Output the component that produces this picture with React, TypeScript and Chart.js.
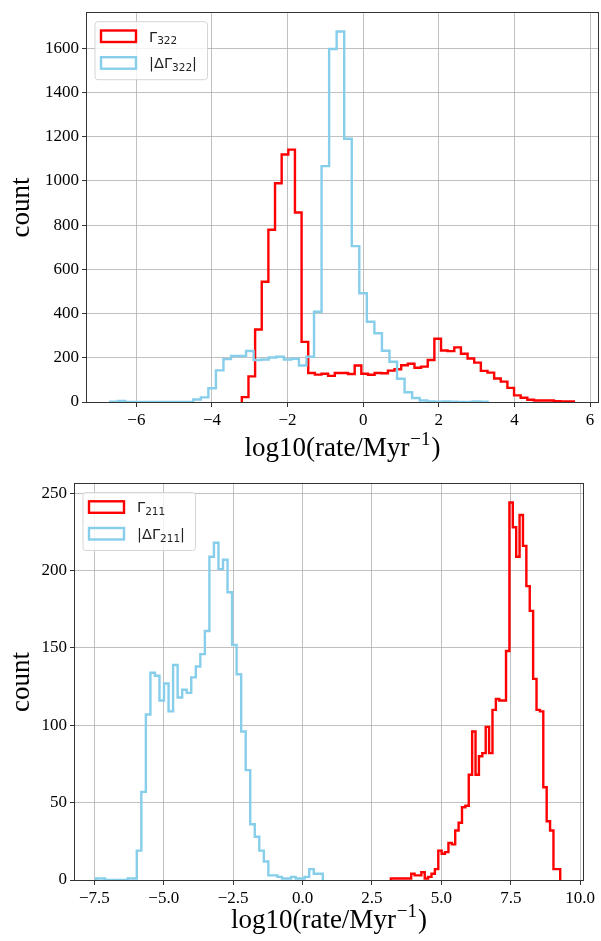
import React, { useEffect, useRef } from "react";
import { Chart, registerables } from "chart.js";

Chart.register(...registerables);

// ---------------- data: top panel (322) ----------------
const TOP_GAMMA_START = -3.21;
const TOP_GAMMA_WIDTH = 0.1756;
const TOP_GAMMA_COUNTS = [
  22, 116, 328, 544, 779, 990, 1120, 1142, 857, 272,
  131, 124, 128, 118, 131, 131, 127, 165, 128, 123,
  131, 130, 142, 148, 166, 173, 155, 160, 190, 286,
  233, 230, 247, 218, 197, 178, 141, 133, 106, 92,
  64, 30, 19, 10, 7, 7, 7, 4, 3, 2,
];
const TOP_DELTA_START = -6.69;
const TOP_DELTA_WIDTH = 0.1996;
const TOP_DELTA_COUNTS = [
  1, 5, 0, 0, 0, 0, 0, 0, 0, 0,
  0, 11, 21, 62, 143, 194, 208, 208, 231, 190,
  192, 201, 205, 192, 196, 165, 205, 408, 1067, 1597,
  1676, 1191, 705, 492, 363, 311, 232, 182, 105, 44,
  18, 7, 3, 1, 3, 1, 0, 0, 3, 1,
];
const TOP_X_TICKS = [-6, -4, -2, 0, 2, 4, 6];
const TOP_Y_TICKS = [0, 200, 400, 600, 800, 1000, 1200, 1400, 1600];
const TOP_LEGEND = [
  [{ t: "Γ" }, { t: "322", sub: true }],
  [{ t: "|ΔΓ" }, { t: "322", sub: true }, { t: "|" }],
];

// ---------------- data: bottom panel (211) ----------------
const BOT_GAMMA_START = 3.18;
const BOT_GAMMA_WIDTH = 0.122;
const BOT_GAMMA_COUNTS = [
  1, 1, 1, 1, 1, 1, 4, 3, 3, 5,
  1, 2, 4, 7, 19, 17, 18, 24, 23, 32,
  37, 47, 48, 68, 96, 68, 80, 82, 99, 82,
  110, 117, 116, 116, 148, 244, 228, 209, 236, 216,
  190, 174, 130, 110, 109, 60, 38, 32, 7, 7,
];
const BOT_DELTA_START = -7.44;
const BOT_DELTA_WIDTH = 0.1634;
const BOT_DELTA_COUNTS = [
  1, 1, 0, 0, 0, 0, 0, 1, 1, 19,
  57, 107, 134, 132, 116, 127, 109, 139, 118, 123,
  121, 131, 138, 146, 161, 209, 218, 201, 207, 186,
  152, 133, 96, 71, 36, 28, 19, 12, 3, 3,
  2, 1, 1, 2, 1, 1, 2, 7, 4, 4,
];
const BOT_X_TICKS = [-7.5, -5.0, -2.5, 0.0, 2.5, 5.0, 7.5, 10.0];
const BOT_Y_TICKS = [0, 50, 100, 150, 200, 250];
const BOT_LEGEND = [
  [{ t: "Γ" }, { t: "211", sub: true }],
  [{ t: "|ΔΓ" }, { t: "211", sub: true }, { t: "|" }],
];

const X_TITLE = ["log10(rate/Myr", "−1", ")"];
const Y_TITLE = "count";

const RED = "#ff0000";
const BLUE = "#87ceeb";
const SERIF = "'Liberation Serif', 'Times New Roman', serif";
const SANS = "'DejaVu Sans', sans-serif";

type Seg = { t: string; sub?: boolean };

function stepPoints(start: number, width: number, counts: number[]) {
  const pts: { x: number; y: number }[] = [{ x: start, y: 0 }];
  counts.forEach((c, i) => pts.push({ x: start + i * width, y: c }));
  pts.push({ x: start + counts.length * width, y: 0 });
  return pts;
}

const minus = (s: string) => s.replace("-", "−");

type Panel = {
  w: number;
  h: number;
  xmin: number;
  xmax: number;
  ymax: number;
  xTicks: number[];
  yTicks: number[];
  xFmt: (v: number) => string;
  gamma: { start: number; width: number; counts: number[] };
  delta: { start: number; width: number; counts: number[] };
  legend: Seg[][];
  padTop: number;
  padRight: number;
  yAxisW: number;
  xAxisH: number;
  xTitleY: number;
};

const PANELS: Panel[] = [
  {
    w: 601,
    h: 470,
    xmin: -7.305,
    xmax: 6.21,
    ymax: 1759,
    xTicks: TOP_X_TICKS,
    yTicks: TOP_Y_TICKS,
    xFmt: (v) => minus(String(v)),
    gamma: { start: TOP_GAMMA_START, width: TOP_GAMMA_WIDTH, counts: TOP_GAMMA_COUNTS },
    delta: { start: TOP_DELTA_START, width: TOP_DELTA_WIDTH, counts: TOP_DELTA_COUNTS },
    legend: TOP_LEGEND,
    padTop: 4,
    padRight: 3,
    yAxisW: 87,
    xAxisH: 68,
    xTitleY: 456,
  },
  {
    w: 601,
    h: 471,
    xmin: -8.195,
    xmax: 10.1,
    ymax: 256,
    xTicks: BOT_X_TICKS,
    yTicks: BOT_Y_TICKS,
    xFmt: (v) => minus(v.toFixed(1)),
    gamma: { start: BOT_GAMMA_START, width: BOT_GAMMA_WIDTH, counts: BOT_GAMMA_COUNTS },
    delta: { start: BOT_DELTA_START, width: BOT_DELTA_WIDTH, counts: BOT_DELTA_COUNTS },
    legend: BOT_LEGEND,
    padTop: 14,
    padRight: 18,
    yAxisW: 75,
    xAxisH: 61,
    xTitleY: 458,
  },
];

function decorPlugin(p: Panel) {
  return {
    id: "decor",
    afterDraw(chart: any) {
      const ctx: CanvasRenderingContext2D = chart.ctx;
      const ca = chart.chartArea;
      ctx.save();
      // frame (spines)
      ctx.strokeStyle = "#333333";
      ctx.lineWidth = 1;
      ctx.strokeRect(
        Math.round(ca.left) - 0.5,
        Math.round(ca.top) - 0.5,
        Math.round(ca.right - ca.left) + 1,
        Math.round(ca.bottom - ca.top) + 1
      );

      // legend
      const bx = ca.left + 8;
      const by = ca.top + 8.5;
      const bw = 112.5;
      const bh = 58;
      const r = 3;
      ctx.beginPath();
      ctx.moveTo(bx + r, by);
      ctx.lineTo(bx + bw - r, by);
      ctx.arcTo(bx + bw, by, bx + bw, by + r, r);
      ctx.lineTo(bx + bw, by + bh - r);
      ctx.arcTo(bx + bw, by + bh, bx + bw - r, by + bh, r);
      ctx.lineTo(bx + r, by + bh);
      ctx.arcTo(bx, by + bh, bx, by + bh - r, r);
      ctx.lineTo(bx, by + r);
      ctx.arcTo(bx, by, bx + r, by, r);
      ctx.closePath();
      ctx.fillStyle = "rgba(255,255,255,0.8)";
      ctx.fill();
      ctx.strokeStyle = "#d5d5d5";
      ctx.lineWidth = 1;
      ctx.stroke();

      const colors = [RED, BLUE];
      p.legend.forEach((segs, i) => {
        const py = by + 8.8 + i * 26.7;
        ctx.strokeStyle = colors[i];
        ctx.lineWidth = 2.4;
        ctx.strokeRect(bx + 6, py, 35, 11.5);
        let tx = bx + 54;
        const base = py + 11;
        ctx.fillStyle = "#222";
        ctx.textBaseline = "alphabetic";
        ctx.textAlign = "left";
        segs.forEach((s) => {
          ctx.font = s.sub ? `10.5px ${SANS}` : `14.6px ${SANS}`;
          ctx.fillText(s.t, tx, s.sub ? base + 2.8 : base);
          tx += ctx.measureText(s.t).width;
        });
      });

      // x title
      ctx.fillStyle = "#000";
      const big = `27px ${SERIF}`;
      const small = `19px ${SERIF}`;
      ctx.font = big;
      const w0 = ctx.measureText(X_TITLE[0]).width;
      const w2 = ctx.measureText(X_TITLE[2]).width;
      ctx.font = small;
      const w1 = ctx.measureText(X_TITLE[1]).width;
      let x = (ca.left + ca.right) / 2 - (w0 + w1 + w2 + 2) / 2;
      ctx.font = big;
      ctx.fillText(X_TITLE[0], x, p.xTitleY);
      x += w0 + 1;
      ctx.font = small;
      ctx.fillText(X_TITLE[1], x, p.xTitleY - 11);
      x += w1 + 1;
      ctx.font = big;
      ctx.fillText(X_TITLE[2], x, p.xTitleY);

      // y title
      ctx.save();
      ctx.translate(29, (ca.top + ca.bottom) / 2);
      ctx.rotate(-Math.PI / 2);
      ctx.font = big;
      ctx.textAlign = "center";
      ctx.textBaseline = "alphabetic";
      ctx.fillText(Y_TITLE, 0, 0);
      ctx.restore();

      ctx.restore();
    },
  };
}

function makeConfig(p: Panel): any {
  const tickFont = { family: SERIF, size: 17 };
  return {
    type: "line",
    data: {
      datasets: [
        {
          label: "gamma",
          data: stepPoints(p.gamma.start, p.gamma.width, p.gamma.counts),
          borderColor: RED,
          borderWidth: 2.4,
          pointRadius: 0,
          stepped: "before",
          fill: false,
          order: 1,
        },
        {
          label: "delta",
          data: stepPoints(p.delta.start, p.delta.width, p.delta.counts),
          borderColor: BLUE,
          borderWidth: 2.4,
          pointRadius: 0,
          stepped: "before",
          fill: false,
          order: 0,
        },
      ],
    },
    options: {
      animation: false,
      responsive: false,
      maintainAspectRatio: false,
      layout: { padding: { left: 0, right: p.padRight, top: p.padTop, bottom: 0 } },
      plugins: { legend: { display: false }, tooltip: { enabled: false } },
      scales: {
        x: {
          type: "linear",
          min: p.xmin,
          max: p.xmax,
          afterBuildTicks: (s: any) => {
            s.ticks = p.xTicks.map((v) => ({ value: v }));
          },
          afterFit: (s: any) => {
            s.height = p.xAxisH;
          },
          ticks: {
            callback: (v: number) => p.xFmt(v),
            font: tickFont,
            color: "#000",
            padding: 3,
            maxRotation: 0,
            autoSkip: false,
          },
          grid: { color: "#b0b0b0", lineWidth: 0.8, tickColor: "#000", tickLength: 5 },
          border: { display: false },
        },
        y: {
          type: "linear",
          min: 0,
          max: p.ymax,
          afterBuildTicks: (s: any) => {
            s.ticks = p.yTicks.map((v) => ({ value: v }));
          },
          afterFit: (s: any) => {
            s.width = p.yAxisW;
          },
          ticks: {
            callback: (v: number) => String(v),
            font: tickFont,
            color: "#000",
            padding: 3,
            autoSkip: false,
          },
          grid: { color: "#b0b0b0", lineWidth: 0.8, tickColor: "#000", tickLength: 5 },
          border: { display: false },
        },
      },
    },
    plugins: [decorPlugin(p)],
  };
}

function HistPanel({ p }: { p: Panel }) {
  const ref = useRef<HTMLCanvasElement | null>(null);
  useEffect(() => {
    if (!ref.current) return;
    const chart = new Chart(ref.current, makeConfig(p));
    return () => chart.destroy();
  }, [p]);
  return (
    <canvas
      ref={ref}
      width={p.w}
      height={p.h}
      style={{ display: "block", width: p.w, height: p.h }}
    />
  );
}

export default function App() {
  return (
    <div
      style={{
        position: "absolute",
        left: 0,
        top: 0,
        width: 601,
        height: 941,
        background: "#fff",
      }}
    >
      {PANELS.map((p, i) => (
        <HistPanel key={i} p={p} />
      ))}
    </div>
  );
}
